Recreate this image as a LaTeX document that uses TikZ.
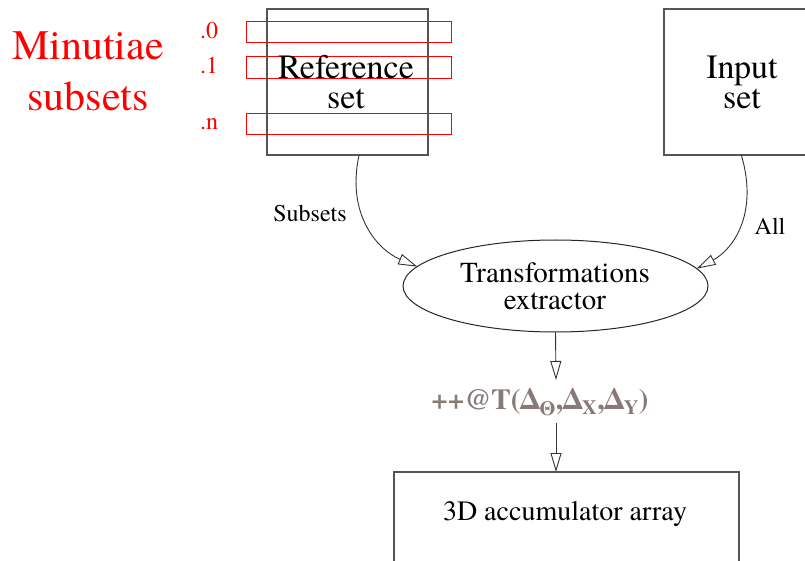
\documentclass[tikz,border=0pt]{standalone}
\usepackage{fontspec}
\setmainfont{texgyretermes}[Extension=.otf, UprightFont=*-regular, BoldFont=*-bold, ItalicFont=*-italic, BoldItalicFont=*-bolditalic]
\usetikzlibrary{arrows.meta,shapes.geometric}
\definecolor{boxgray}{RGB}{85,85,85}
\definecolor{labgray}{RGB}{135,122,118}
\tikzset{
  x=1pt, y=-1pt,
  boxst/.style={draw=boxgray, line width=1.2pt, inner sep=0pt, outer sep=0pt},
  subrect/.style={draw=red, line width=1pt},
  conn/.style={draw=black!80, line width=0.9pt, -{Triangle[open, length=19pt, width=11pt, line width=0.9pt]}},
  txt/.style={inner sep=0pt, align=center},
  sublab/.style={txt, text=red, font=\fontsize{24}{24}\selectfont},
}
\begin{document}
\begin{tikzpicture}
\useasboundingbox (0,0) rectangle (805,561);
\clip (0,0) rectangle (805,561);

% Minutiae subsets label
\node[txt, text=red, font=\fontsize{42}{51}\selectfont] (mins) at (88,71) {Minutiae\\subsets};

% red subset rectangles
\draw[subrect] (246,22) rectangle (451,43);
\draw[subrect] (246,57) rectangle (451,79);
\draw[subrect] (246,114) rectangle (451,135);
\node[sublab] (s0) at (209,31) {.0};
\node[sublab] (s1) at (209,66) {.1};
\node[sublab] (sn) at (209,124) {.n};

% Reference set
\node[boxst, minimum width=161pt, minimum height=146pt] (ref) at (347.5,82) {};
\node[txt, font=\fontsize{34}{30}\selectfont] (reft) at (346,82) {Reference\\set};

% Input set
\node[boxst, minimum width=170pt, minimum height=146pt] (inp) at (749,82) {};
\node[txt, font=\fontsize{34}{30}\selectfont] (inpt) at (742,82) {Input\\set};

% Transformations extractor
\node[boxst, draw=black!85, line width=1pt, ellipse, minimum width=305pt, minimum height=92pt] (ext) at (555.5,286) {};
\node[txt, font=\fontsize{29}{27}\selectfont] (extt) at (555,286) {Transformations\\extractor};

% curved connectors
\draw[conn] (ref.-81.8) .. controls (346,215) and (378,250) .. (ext.172.8);
\draw[conn] (inp.-96) .. controls (759,215) and (732,250) .. (ext.7.6);
\node[txt, font=\fontsize{24}{24}\selectfont] (lsub) at (310,213) {Subsets};
\node[txt, font=\fontsize{24}{24}\selectfont] (lall) at (770,226) {All};

% transformation label
\node[txt, text=labgray, font=\bfseries\fontsize{29}{29}\selectfont] (lab) at (540,402)
  {++@T(Δ\textsubscript{Θ},Δ\textsubscript{X},Δ\textsubscript{Y})};
\coordinate (lt) at (556,380);
\coordinate (lb) at (556,423);

% accumulator
\draw[boxst] (394,620) |- (739,472) -- (739,620);
\coordinate (acc) at (556,472);
\node[txt, font=\fontsize{28}{28}\selectfont] (acct) at (565,514) {3D accumulator array};

\draw[conn] (ext.south) -- (lt);
\draw[conn] (lb) -- (acc);
\end{tikzpicture}
\end{document}
